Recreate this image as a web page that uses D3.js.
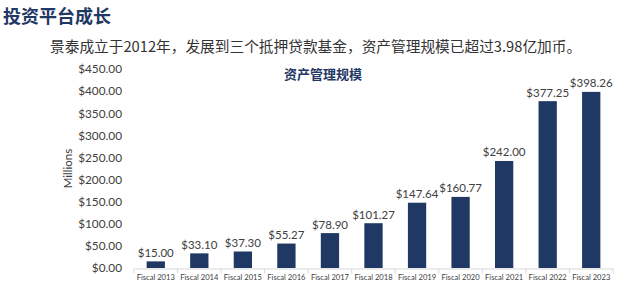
<!DOCTYPE html>
<html lang="zh">
<head>
<meta charset="UTF-8">
<script src="https://d3js.org/d3.v7.min.js"></script>
<style>
  body { margin: 0; background: #fff; }
  svg text { font-family: "Noto Sans CJK SC", "Noto Sans", sans-serif; }
  .num { font-family: Lato, "Liberation Sans", sans-serif; }
</style>
</head>
<body>
<svg id="chart" width="624" height="287"></svg>
<script>
// data
const years = ["Fiscal 2013", "Fiscal 2014", "Fiscal 2015", "Fiscal 2016", "Fiscal 2017", "Fiscal 2018",
               "Fiscal 2019", "Fiscal 2020", "Fiscal 2021", "Fiscal 2022", "Fiscal 2023"];
const aum = [15.00, 33.10, 37.30, 55.27, 78.90, 101.27, 147.64, 160.77, 242.00, 377.25, 398.26];
const yTicks = [0, 50, 100, 150, 200, 250, 300, 350, 400, 450];

const navy = "#1f3864";
const svg = d3.select("#chart");

// headings
svg.append("text").attr("x", 3).attr("y", 23)
   .attr("font-size", 18).attr("font-weight", "bold").attr("fill", navy)
   .text("投资平台成长");
svg.append("text").attr("x", 50).attr("y", 52)
   .attr("font-size", 14.7).attr("fill", "#333")
   .text("景泰成立于2012年，发展到三个抵押贷款基金，资产管理规模已超过3.98亿加币。");
svg.append("text").attr("x", 323).attr("y", 79).attr("text-anchor", "middle")
   .attr("font-size", 13).attr("font-weight", "bold").attr("fill", navy)
   .text("资产管理规模");

// scales
const x = d3.scaleBand().domain(years).range([134, 613]).paddingInner(0.58).paddingOuter(0.29);
const y = d3.scaleLinear().domain([0, 450]).range([268, 69]);

// y axis labels (no line)
const yAxis = svg.append("g").attr("transform", "translate(122,0)")
  .call(d3.axisLeft(y).tickValues(yTicks).tickSize(0).tickPadding(0).tickFormat(d => "$" + d3.format(".2f")(d)));
yAxis.select(".domain").remove();
yAxis.selectAll("text").attr("class", "num").attr("font-size", 11.8).attr("fill", "#404040");

svg.append("text")
   .attr("transform", "translate(72,168.5) rotate(-90)")
   .attr("text-anchor", "middle").attr("class", "num")
   .attr("font-size", 11.5).attr("fill", "#404040")
   .text("Millions");

// x axis
const xAxis = svg.append("g").attr("transform", "translate(0,268.5)")
  .call(d3.axisBottom(x).tickSize(0).tickPadding(6));
xAxis.select(".domain").attr("stroke", "#d9d9d9");
xAxis.selectAll("text").attr("class", "num").attr("font-size", 7.6).attr("fill", "#404040");
// separators between categories
const edges = years.map((d, i) => x(d) - x.step() * x.paddingInner() / 2).concat([613]);
xAxis.selectAll("line.sep").data(edges).join("line")
  .attr("class", "sep")
  .attr("x1", d => d).attr("x2", d => d)
  .attr("y1", 0).attr("y2", 5)
  .attr("stroke", "#d9d9d9");

// bars
svg.selectAll("rect.bar").data(aum).join("rect")
  .attr("class", "bar")
  .attr("x", (d, i) => x(years[i]))
  .attr("width", x.bandwidth())
  .attr("y", d => y(d))
  .attr("height", d => y(0) - y(d))
  .attr("fill", navy);

svg.selectAll("text.val").data(aum).join("text")
  .attr("class", "val num")
  .attr("x", (d, i) => x(years[i]) + x.bandwidth() / 2)
  .attr("y", d => y(d) - 4.5)
  .attr("text-anchor", "middle")
  .attr("font-size", 11.5).attr("fill", "#404040")
  .text(d => "$" + d3.format(".2f")(d));
</script>
</body>
</html>
